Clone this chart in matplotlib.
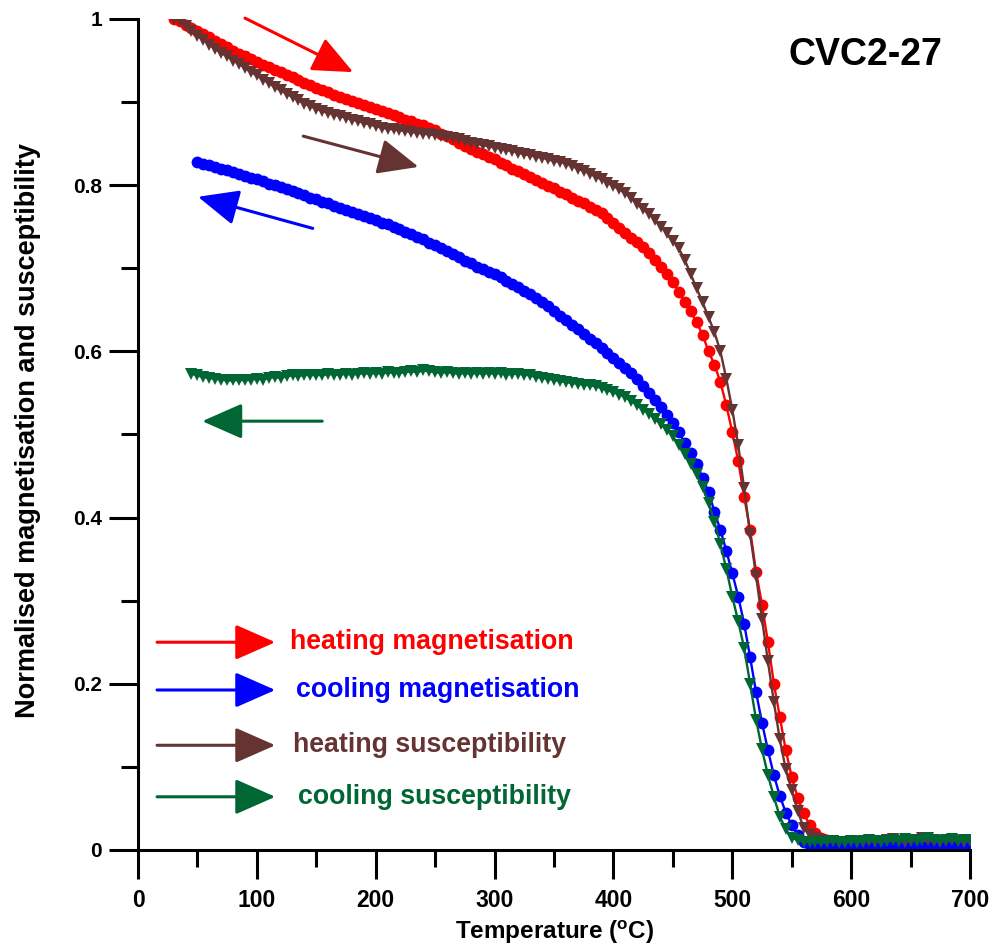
import numpy as np
import matplotlib.pyplot as plt
from matplotlib.patches import FancyArrowPatch
from matplotlib.ticker import MultipleLocator

plt.rcParams['font.family'] = ['Liberation Sans', 'DejaVu Sans']
plt.rcParams['mathtext.fontset'] = 'custom'
plt.rcParams['mathtext.rm'] = 'Liberation Sans:bold'
plt.rcParams['mathtext.it'] = 'Liberation Sans:bold'
plt.rcParams['mathtext.bf'] = 'Liberation Sans:bold'

# temperatures (degC), 5 degree steps
t_heat = np.arange(30, 705, 5)
t_cool_mag = np.arange(50, 705, 5)
t_cool_sus = np.arange(45, 705, 5)

heating_mag = [
    1.000, 0.997, 0.993, 0.989, 0.985, 0.982, 0.978, 0.974, 0.970, 0.966,
    0.962, 0.958, 0.955, 0.952, 0.948, 0.945, 0.942, 0.939, 0.936, 0.933,
    0.930, 0.926, 0.923, 0.920, 0.917, 0.914, 0.912, 0.909, 0.906, 0.904,
    0.901, 0.899, 0.896, 0.894, 0.892, 0.889, 0.887, 0.884, 0.882, 0.879,
    0.877, 0.874, 0.872, 0.869, 0.866, 0.862, 0.859, 0.855, 0.851, 0.847,
    0.843, 0.840, 0.837, 0.834, 0.831, 0.827, 0.824, 0.820, 0.817, 0.813,
    0.810, 0.806, 0.803, 0.799, 0.796, 0.792, 0.789, 0.785, 0.781, 0.778,
    0.774, 0.770, 0.766, 0.760, 0.754, 0.748, 0.742, 0.737, 0.732, 0.725,
    0.718, 0.710, 0.702, 0.693, 0.684, 0.672, 0.659, 0.648, 0.635, 0.620,
    0.600, 0.584, 0.563, 0.535, 0.503, 0.468, 0.425, 0.385, 0.335, 0.295,
    0.250, 0.200, 0.160, 0.120, 0.088, 0.063, 0.045, 0.030, 0.020, 0.015,
    0.012, 0.011, 0.010, 0.009, 0.009, 0.008, 0.008, 0.009, 0.008, 0.007,
    0.008, 0.007, 0.007, 0.008, 0.007, 0.006, 0.007, 0.006, 0.007, 0.006,
    0.006, 0.007, 0.006, 0.006, 0.009,
]

heating_sus = [
    1.000, 0.998, 0.992, 0.985, 0.980, 0.975, 0.969, 0.964, 0.959, 0.955,
    0.950, 0.946, 0.941, 0.936, 0.932, 0.927, 0.923, 0.918, 0.914, 0.910,
    0.906, 0.902, 0.898, 0.895, 0.892, 0.889, 0.887, 0.885, 0.883, 0.881,
    0.879, 0.877, 0.875, 0.873, 0.871, 0.869, 0.868, 0.867, 0.866, 0.865,
    0.864, 0.863, 0.862, 0.861, 0.860, 0.859, 0.858, 0.857, 0.855, 0.853,
    0.851, 0.850, 0.848, 0.847, 0.845, 0.844, 0.842, 0.841, 0.839, 0.837,
    0.836, 0.834, 0.833, 0.831, 0.829, 0.828, 0.826, 0.823, 0.820, 0.817,
    0.814, 0.810, 0.807, 0.803, 0.799, 0.795, 0.790, 0.784, 0.777, 0.771,
    0.765, 0.758, 0.750, 0.742, 0.733, 0.724, 0.710, 0.693, 0.676, 0.659,
    0.641, 0.623, 0.600, 0.567, 0.530, 0.487, 0.435, 0.380, 0.330, 0.278,
    0.227, 0.178, 0.133, 0.097, 0.072, 0.047, 0.027, 0.018, 0.014, 0.012,
    0.011, 0.011, 0.010, 0.010, 0.011, 0.010, 0.010, 0.011, 0.010, 0.011,
    0.012, 0.013, 0.011, 0.010, 0.011, 0.012, 0.014, 0.012, 0.011, 0.010,
    0.011, 0.012, 0.011, 0.010, 0.011,
]

cooling_mag = [
    0.828, 0.826, 0.824, 0.822, 0.820, 0.818, 0.816, 0.814, 0.811, 0.809,
    0.807, 0.805, 0.802, 0.800, 0.798, 0.795, 0.793, 0.790, 0.788, 0.785,
    0.783, 0.780, 0.778, 0.775, 0.773, 0.770, 0.768, 0.765, 0.763, 0.760,
    0.758, 0.755, 0.753, 0.750, 0.747, 0.744, 0.741, 0.738, 0.735, 0.731,
    0.728, 0.724, 0.721, 0.717, 0.713, 0.709, 0.706, 0.702, 0.699, 0.696,
    0.693, 0.689, 0.685, 0.681, 0.677, 0.673, 0.669, 0.664, 0.659, 0.654,
    0.649, 0.643, 0.638, 0.632, 0.627, 0.621, 0.615, 0.610, 0.604, 0.598,
    0.592, 0.586, 0.580, 0.574, 0.567, 0.558, 0.550, 0.542, 0.533, 0.524,
    0.514, 0.503, 0.490, 0.478, 0.465, 0.448, 0.431, 0.407, 0.385, 0.360,
    0.333, 0.305, 0.272, 0.232, 0.190, 0.153, 0.120, 0.090, 0.065, 0.045,
    0.030, 0.018, 0.010, 0.006, 0.004, 0.004, 0.003, 0.003, 0.004, 0.003,
    0.003, 0.004, 0.003, 0.003, 0.004, 0.003, 0.003, 0.004, 0.003, 0.003,
    0.004, 0.003, 0.003, 0.004, 0.003, 0.003, 0.004, 0.003, 0.003, 0.004,
    0.006,
]

cooling_sus = [
    0.573, 0.571, 0.569, 0.568, 0.567, 0.566, 0.565, 0.565, 0.566, 0.565,
    0.566, 0.567, 0.566, 0.568, 0.569, 0.568, 0.570, 0.571, 0.570, 0.572,
    0.571, 0.572, 0.571, 0.573, 0.572, 0.572, 0.573, 0.572, 0.573, 0.574,
    0.573, 0.574, 0.573, 0.575, 0.574, 0.574, 0.575, 0.576, 0.575, 0.577,
    0.576, 0.575, 0.574, 0.575, 0.574, 0.573, 0.574, 0.573, 0.574, 0.573,
    0.574, 0.573, 0.574, 0.572, 0.573, 0.573, 0.572, 0.571, 0.569, 0.568,
    0.567, 0.566, 0.564, 0.563, 0.562, 0.561, 0.560, 0.559, 0.558, 0.556,
    0.553, 0.551, 0.548, 0.545, 0.540, 0.535, 0.530, 0.525, 0.519, 0.512,
    0.505, 0.498, 0.487, 0.476, 0.464, 0.452, 0.437, 0.418, 0.395, 0.368,
    0.338, 0.305, 0.275, 0.243, 0.200, 0.157, 0.121, 0.090, 0.064, 0.040,
    0.025, 0.015, 0.012, 0.010, 0.010, 0.010, 0.009, 0.010, 0.011, 0.010,
    0.010, 0.011, 0.010, 0.011, 0.012, 0.011, 0.010, 0.011, 0.012, 0.011,
    0.013, 0.012, 0.011, 0.012, 0.014, 0.012, 0.011, 0.012, 0.013, 0.011,
    0.012, 0.012,
]

x_ticks = [0, 100, 200, 300, 400, 500, 600, 700]
y_ticks = [0, 0.2, 0.4, 0.6, 0.8, 1]
y_ticklabels = ['0', '0.2', '0.4', '0.6', '0.8', '1']

labels = ['heating magnetisation', 'cooling magnetisation',
          'heating susceptibility', 'cooling susceptibility']
colors = ['#ff0000', '#0000ff', '#663333', '#006633']

fig = plt.figure(figsize=(9.9, 9.48), dpi=100)
ax = fig.add_axes([0.1394, 0.1034, 0.8404, 0.8766])

ax.plot(t_heat, heating_mag, '-o', color=colors[0], lw=1.7, ms=8.5, mew=0)
ax.plot(t_cool_mag, cooling_mag, '-o', color=colors[1], lw=1.7, ms=8.5, mew=0)
ax.plot(t_heat, heating_sus, '-v', color=colors[2], lw=1.7, ms=8.5, mew=0)
ax.plot(t_cool_sus, cooling_sus, '-v', color=colors[3], lw=1.7, ms=8.5, mew=0)

ax.set_xlim(0, 700)
ax.set_ylim(0, 1)
for s in ['top', 'right']:
    ax.spines[s].set_visible(False)
for s in ['left', 'bottom']:
    ax.spines[s].set_linewidth(2.2)

ax.set_xticks(x_ticks, [str(v) for v in x_ticks], fontsize=16.5,
              fontweight='bold')
ax.set_yticks(y_ticks, y_ticklabels, fontsize=15, fontweight='bold')
ax.xaxis.set_minor_locator(MultipleLocator(50))
ax.yaxis.set_minor_locator(MultipleLocator(0.1))
ax.tick_params(which='major', direction='out', length=21, width=2.2)
ax.tick_params(which='minor', direction='out', length=12, width=2.2)
ax.tick_params(axis='x', which='major', pad=7)
ax.tick_params(axis='y', which='major', pad=5)

ax.set_xlabel('Temperature ($^{o}$C)', weight='bold', fontsize=17.5)
ax.xaxis.set_label_coords(0.501, -0.083)
ax.set_ylabel('Normalised magnetisation and susceptibility',
              weight='bold', fontsize=19.5)
ax.yaxis.set_label_coords(-0.117, 0.505)

ax.text(612, 0.957, 'CVC2-27', fontsize=27, weight='bold', ha='center',
        va='center')


def arrow(p0, p1, c):
    a = FancyArrowPatch(p0, p1, arrowstyle='-|>,head_length=25,head_width=11',
                        mutation_scale=1, lw=2.2, color=c, shrinkA=0,
                        shrinkB=0, clip_on=False)
    ax.add_patch(a)


# direction arrows next to the curves
arrow((90, 1.001), (181, 0.936), colors[0])
arrow((147, 0.748), (50.5, 0.786), colors[1])
arrow((139, 0.859), (236, 0.822), colors[2])
arrow((155, 0.516), (54, 0.516), colors[3])

# hand-drawn legend
leg_y = [0.250, 0.1925, 0.126, 0.064]
leg_x = [128, 133, 130.5, 134.5]
for lab, c, y, x in zip(labels, colors, leg_y, leg_x):
    arrow((16, y), (115.5, y), c)
    ax.text(x, y, lab, color=c, fontsize=19.3, weight='bold', va='center')

fig.savefig('out.png', dpi=100)
